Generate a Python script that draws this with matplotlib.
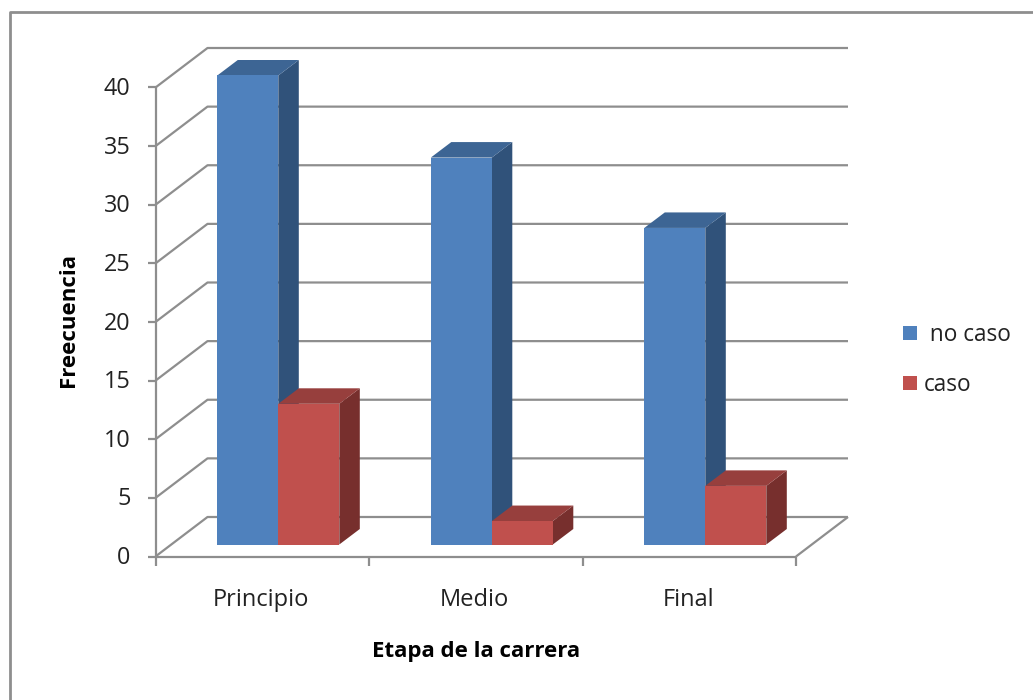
import matplotlib
matplotlib.use('Agg')
import matplotlib.pyplot as plt
from matplotlib.lines import Line2D
from matplotlib.patches import Patch, Polygon

# Datos
etapas = ['Principio', 'Medio', 'Final']
no_caso = [40, 33, 27]
caso = [12, 2, 5]
y_ticks = [0, 5, 10, 15, 20, 25, 30, 35, 40]

W, H = 1033, 700
plt.rcParams['font.family'] = ['Open Sans', 'DejaVu Sans']

fig = plt.figure(figsize=(W / 100, H / 100), dpi=100, facecolor='white')

# El plano frontal del grafico, en pixeles de la imagen
left, right, top, bottom = 155.5, 796, 87.5, 556.5
ax = fig.add_axes([left / W, 1 - bottom / H, (right - left) / W, (bottom - top) / H])
ax.set_xlim(0, 3)
ax.set_ylim(0, 40)
ax.axis('off')

px_x = 3 / (right - left)
px_y = 40 / (bottom - top)
gris = '#8e8e8e'
lw = 1.6

# Profundidad de las paredes y de las barras
wall_dx, wall_dy = 52 * px_x, 39.5 * px_y
bar_dx, bar_dy = 20.5 * px_x, 15.5 * px_y
base_dx, base_dy = 15.8 * px_x, 12 * px_y
gap = 46 * px_x
ancho = 61 * px_x


def linea(xs, ys, z=1):
    ax.plot(xs, ys, color=gris, lw=lw, clip_on=False, zorder=z, solid_capstyle='butt')


# Rejilla y paredes
for t in y_ticks:
    linea([0, wall_dx, 3 + wall_dx], [t, t + wall_dy, t + wall_dy])
    linea([-8 * px_x, 0], [t, t])
    ax.text(-25 * px_x, t - 1.5 * px_y, str(t), ha='right', va='center', fontsize=16.8, color='#222222')

linea([0, 0], [0, 40])
linea([0, 3], [0, 0])
linea([3, 3 + wall_dx], [0, wall_dy])
for i in range(4):
    linea([i, i], [0, -9 * px_y])


def barra(x0, valor, frente, arriba, lado, z):
    x1 = x0 + ancho
    y0 = base_dy
    y1 = base_dy + valor
    ax.add_patch(Polygon([(x1, y0), (x1 + bar_dx, y0 + bar_dy), (x1 + bar_dx, y1 + bar_dy), (x1, y1)],
                         facecolor=lado, edgecolor='none', clip_on=False, zorder=z))
    ax.add_patch(Polygon([(x0, y1), (x0 + bar_dx, y1 + bar_dy), (x1 + bar_dx, y1 + bar_dy), (x1, y1)],
                         facecolor=arriba, edgecolor='none', clip_on=False, zorder=z))
    ax.add_patch(Polygon([(x0, y0), (x1, y0), (x1, y1), (x0, y1)],
                         facecolor=frente, edgecolor='none', clip_on=False, zorder=z))


for i, etapa in enumerate(etapas):
    x0 = i + base_dx + gap
    barra(x0, no_caso[i], '#4f81bd', '#3d6594', '#30527a', 3)
    barra(x0 + ancho, caso[i], '#c0504d', '#973f3d', '#772f2d', 4)
    ax.text(i + 0.495, -44 * px_y, etapa, ha='center', va='center', fontsize=17, color='#222222')

fig.text(476 / W, 1 - 652 / H, 'Etapa de la carrera', ha='center', va='center',
         fontsize=16, fontweight='bold', color='black')
fig.text(68 / W, 1 - 320 / H, 'Freecuencia', ha='center', va='center', rotation=90,
         fontsize=16, fontweight='bold', color='black')

handles = [Patch(facecolor='#4f81bd'), Patch(facecolor='#c0504d')]
fig.legend(handles, [' no caso', 'caso'], loc='upper left',
           bbox_to_anchor=(903 / W, 1 - 323 / H), frameon=False, fontsize=16.3,
           handlelength=0.62, handleheight=0.62, handletextpad=0.3, labelspacing=1.15,
           borderpad=0, borderaxespad=0, labelcolor='#222222')

# Marco de la imagen, solo arriba y a la izquierda
fig.add_artist(Line2D([9.5 / W, 9.5 / W, 1], [0, 1 - 11.5 / H, 1 - 11.5 / H], color=gris, lw=2))

fig.savefig('out.png', dpi=100)
